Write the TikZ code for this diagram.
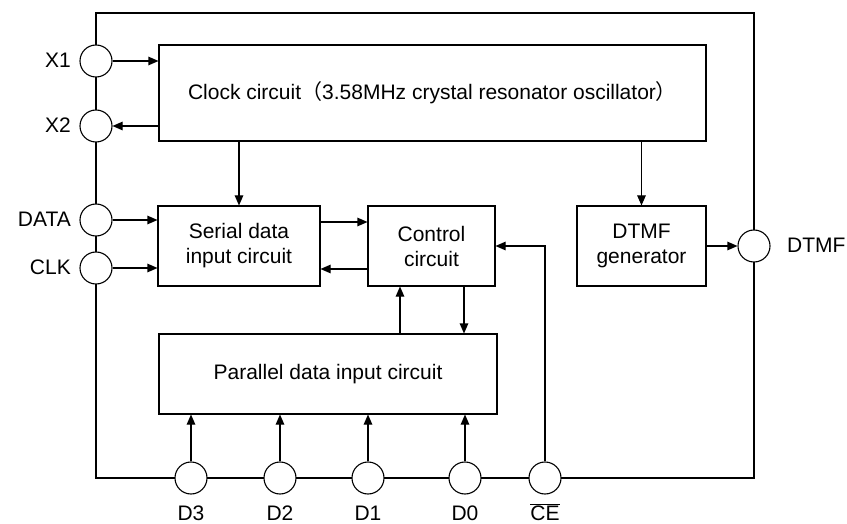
\documentclass[tikz,border=0pt]{standalone}
\usepackage{fontspec}
\setmainfont{Liberation Sans}
\newfontfamily\cjk{Noto Sans CJK SC}
\usetikzlibrary{arrows.meta,calc}
\tikzset{
  blk/.style={draw=black, line width=1.1pt, align=center, inner sep=0pt},
  pin/.style={draw=black, fill=white, circle, minimum size=32pt, inner sep=0pt, line width=1.1pt},
  lab/.style={inner sep=0pt},
  arr/.style={line width=1.1pt, -{Triangle[length=10pt,width=8.5pt]}},
  frame/.style={line width=1.8pt}
}
\begin{document}
\begin{tikzpicture}[x=1pt,y=-1pt,font=\fontsize{21}{25}\selectfont]
\useasboundingbox (0,0) rectangle (847,524);
% frame
\draw[frame] (96,13) rectangle (754,478);
% blocks
\node[blk, minimum width=547pt, minimum height=96pt] (clk) at (432.5,93)
  {Clock circuit{\cjk （}3.58MHz crystal resonator oscillator{\cjk ）}};
\node[blk, minimum width=162pt, minimum height=80pt] (ser) at (239,246) {Serial data\\input circuit};
\node[blk, minimum width=127pt, minimum height=80pt] (ctl) at (431.5,246) {Control\\circuit};
\node[blk, minimum width=129pt, minimum height=80pt] (gen) at (641.5,246) {DTMF\\generator};
\node[blk, minimum width=338pt, minimum height=80pt] (par) at (328,374) {Parallel data input circuit};
% pins
\node[pin] (x1) at (96,61) {};
\node[pin] (x2) at (96,126) {};
\node[pin] (data) at (96,220) {};
\node[pin] (clkp) at (96,268) {};
\node[pin] (dtmf) at (754,246) {};
\node[pin] (d3) at (191,478) {};
\node[pin] (d2) at (280,478) {};
\node[pin] (d1) at (368,478) {};
\node[pin] (d0) at (465,478) {};
\node[pin] (ce) at (545,478) {};
% pin labels
\node[lab, anchor=base east] (lx1) at (71,68) {X1};
\node[lab, anchor=base east] (lx2) at (71,133) {X2};
\node[lab, anchor=base east] (ldata) at (71,227) {DATA};
\node[lab, anchor=base east] (lclk) at (71,275) {CLK};
\node[lab, anchor=base west] (ldtmf) at (787,253) {DTMF};
\node[lab, anchor=base] (ld3) at (191,520) {D3};
\node[lab, anchor=base] (ld2) at (280,520) {D2};
\node[lab, anchor=base] (ld1) at (368,520) {D1};
\node[lab, anchor=base] (ld0) at (465,520) {D0};
\node[lab, anchor=base] (lce) at (545,520) {$\overline{\mbox{CE}}$};
% connectors
\draw[arr] (x1) -- (x1 -| clk.west);
\draw[arr] (x2 -| clk.west) -- (x2);
\draw[arr] (clk.south -| ser.north) -- (ser.north);
\draw[arr] (clk.south -| gen.north) -- (gen.north);
\draw[arr] (data) -- (data -| ser.west);
\draw[arr] (clkp) -- (clkp -| ser.west);
\draw[arr] (ser.east |- 0,222) -- (ctl.west |- 0,222);
\draw[arr] (ctl.west |- 0,269) -- (ser.east |- 0,269);
\draw[arr] (par.north -| 400,0) -- (ctl.south -| 400,0);
\draw[arr] (ctl.south -| 464,0) -- (par.north -| 464,0);
\draw[arr] (d3) -- (d3 |- par.south);
\draw[arr] (d2) -- (d2 |- par.south);
\draw[arr] (d1) -- (d1 |- par.south);
\draw[arr] (d0) -- (d0 |- par.south);
\draw[arr] (ce) |- (ctl.east);
\draw[arr] (gen.east) -- (dtmf);
\end{tikzpicture}
\end{document}
